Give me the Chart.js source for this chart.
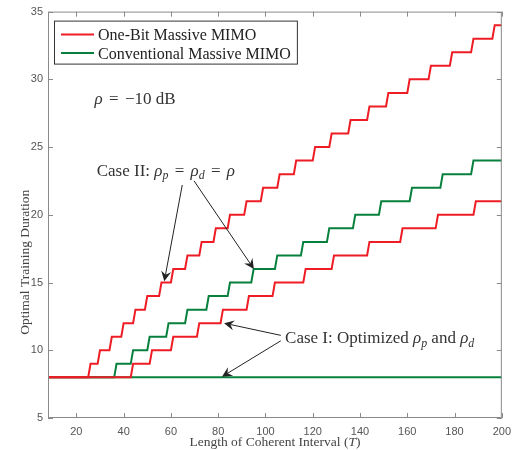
<!DOCTYPE html>
<html>
<head>
<meta charset="utf-8">
<script src="https://cdn.jsdelivr.net/npm/chart.js@4.4.1/dist/chart.umd.min.js"></script>
<style>
    html, body { margin: 0; padding: 0; background: #fff; }
    #wrap { width: 518px; height: 450px; position: relative; }
</style>
</head>
<body>
<div id="wrap"><canvas id="chart"></canvas></div>
<script>
// ─── Data ────────────────────────────────────────────────────────────────
const T_MIN = 8, T_MAX = 200;
const START_LEN = 8;                 // every curve starts at K = 8
const xTicks = [20, 40, 60, 80, 100, 120, 140, 160, 180, 200];
const yTicks = [5, 10, 15, 20, 25, 30, 35];

// T at which the optimal training duration steps up, and the new value
const oneBitCase2T   = [26, 30, 35, 40, 45, 50, 56, 61, 67, 73, 79, 85, 92, 99, 106, 113, 121, 128, 136, 144, 152, 161, 170, 179, 188, 197];
const oneBitCase2Len = [ 9, 10, 11, 12, 13, 14, 15, 16, 17, 18, 19, 20, 21, 22,  23,  24,  25,  26,  27,  28,  29,  30,  31,  32,  33,  34];

const oneBitCase1T   = [44, 52, 61, 72, 82, 93, 104, 117, 129, 144, 158, 173, 189];
const oneBitCase1Len = [ 9, 10, 11, 12, 13, 14,  15,  16,  17,  18,  19,  20,  21];

const convCase2T     = [37, 44, 51, 59, 67, 76, 85, 95, 105, 116, 127, 138, 149, 162, 175, 188];
const convCase2Len   = [ 9, 10, 11, 12, 13, 14, 15, 16,  17,  18,  19,  20,  21,  22,  23,  24];

const convCase1T     = [];
const convCase1Len   = [];

const RED   = '#ee1d25';
const GREEN = '#08803d';
const SERIF = '"Liberation Serif", "DejaVu Serif", serif';
const SANS  = '"Liberation Sans", Arial, sans-serif';

// integer-T staircase: value changes between T-1 and T
function stairs(stepT, stepLen) {
    const pts = [{ x: T_MIN, y: START_LEN }];
    let prev = START_LEN;
    stepT.forEach((t, i) => {
        pts.push({ x: t - 1, y: prev });
        pts.push({ x: t, y: stepLen[i] });
        prev = stepLen[i];
    });
    pts.push({ x: T_MAX, y: prev });
    return pts;
}

// ─── Text helpers ────────────────────────────────────────────────────────
// segs: [text, style]   style: '' upright, 'i' italic, 'is' italic subscript,
//                       'm' relation symbol with wide math spacing
const OP_GAP = 0.37;
function segFont(st, size) {
    const fs = st.includes('s') ? size * 0.7 : size;
    return (st.includes('i') ? 'italic ' : '') + fs + 'px ' + SERIF;
}
function richWidth(ctx, segs, size) {
    let w = 0;
    segs.forEach(([t, st]) => {
        ctx.font = segFont(st, size);
        w += ctx.measureText(t).width + (st === 'm' ? 2 * OP_GAP * size : 0);
    });
    return w;
}
function richText(ctx, segs, x, y, size) {
    let cx = x;
    ctx.textBaseline = 'alphabetic';
    ctx.textAlign = 'left';
    segs.forEach(([t, st]) => {
        ctx.font = segFont(st, size);
        if (st === 'm') cx += OP_GAP * size;
        ctx.fillText(t, cx, y + (st.includes('s') ? size * 0.22 : 0));
        cx += ctx.measureText(t).width;
        if (st === 'm') cx += OP_GAP * size;
    });
    return cx - x;
}
function arrow(ctx, x0, y0, x1, y1) {
    const a = Math.atan2(y1 - y0, x1 - x0), c = Math.cos(a), s = Math.sin(a);
    const L = 10, W = 5, N = 6.5;
    ctx.beginPath();
    ctx.moveTo(x0, y0);
    ctx.lineTo(x1 - N * c, y1 - N * s);
    ctx.stroke();
    ctx.beginPath();
    ctx.moveTo(x1, y1);
    ctx.lineTo(x1 - L * c + W * s, y1 - L * s - W * c);
    ctx.lineTo(x1 - N * c, y1 - N * s);
    ctx.lineTo(x1 - L * c - W * s, y1 - L * s + W * c);
    ctx.closePath();
    ctx.fill();
}

// ─── Frame, legend and annotations ───────────────────────────────────────
const decorations = {
    id: 'decorations',
    afterDraw(chart) {
        const { ctx, chartArea: ca, scales: { x, y } } = chart;
        ctx.save();

        // box + inward ticks
        ctx.strokeStyle = '#8a8a8a';
        ctx.lineWidth = 1;
        ctx.strokeRect(ca.left + 0.5, ca.top + 0.5, ca.right - ca.left - 1, ca.bottom - ca.top - 1);
        ctx.beginPath();
        xTicks.forEach(v => {
            const px = Math.round(x.getPixelForValue(v)) + 0.5;
            ctx.moveTo(px, ca.bottom); ctx.lineTo(px, ca.bottom - 5);
            ctx.moveTo(px, ca.top);    ctx.lineTo(px, ca.top + 5);
        });
        yTicks.forEach(v => {
            const py = Math.round(y.getPixelForValue(v)) + 0.5;
            ctx.moveTo(ca.left, py);  ctx.lineTo(ca.left + 5, py);
            ctx.moveTo(ca.right, py); ctx.lineTo(ca.right - 5, py);
        });
        ctx.stroke();

        // axis titles
        ctx.fillStyle = '#444';
        const xt = [['Length of Coherent Interval (', ''], ['T', 'i'], [')', '']];
        const xw = richWidth(ctx, xt, 13.5);
        richText(ctx, xt, (ca.left + ca.right) / 2 - xw / 2, ca.bottom + 27.5, 13.5);

        ctx.save();
        ctx.translate(ca.left - 23, y.getPixelForValue(16.5));
        ctx.rotate(-Math.PI / 2);
        ctx.font = '13.5px ' + SERIF;
        ctx.textAlign = 'center';
        ctx.textBaseline = 'middle';
        ctx.fillText('Optimal Training Duration', 0, 0);
        ctx.restore();

        // legend
        const items = chart.data.datasets.filter(d => d.legend);
        ctx.font = '16px ' + SERIF;
        const tw = Math.max(...items.map(d => ctx.measureText(d.label).width));
        const bx = ca.left + 6, by = ca.top + 9;
        ctx.fillStyle = '#fff';
        ctx.fillRect(bx, by, 44 + tw + 6, 43);
        ctx.strokeStyle = '#333';
        ctx.strokeRect(bx + 0.5, by + 0.5, 44 + tw + 6, 43);
        items.forEach((d, i) => {
            const ry = by + 14 + i * 18.5;
            ctx.strokeStyle = d.borderColor;
            ctx.lineWidth = 2;
            ctx.beginPath();
            ctx.moveTo(bx + 7, ry); ctx.lineTo(bx + 40, ry);
            ctx.stroke();
            ctx.fillStyle = '#222';
            ctx.textAlign = 'left';
            ctx.textBaseline = 'alphabetic';
            ctx.fillText(d.label, bx + 44, ry + 5.5);
        });

        // annotations
        ctx.fillStyle = '#333';
        richText(ctx, [['ρ', 'i'], ['=', 'm'], ['−10 dB', '']],
            x.getPixelForValue(27.7), y.getPixelForValue(28.2), 17);
        richText(ctx, [['Case II: ', ''], ['ρ', 'i'], ['p', 'is'], ['=', 'm'], ['ρ', 'i'], ['d', 'is'], ['=', 'm'], ['ρ', 'i']],
            x.getPixelForValue(28.6), y.getPixelForValue(22.9), 17);
        richText(ctx, [['Case I: Optimized ', ''], ['ρ', 'i'], ['p', 'is'], [' and ', ''], ['ρ', 'i'], ['d', 'is']],
            x.getPixelForValue(108.3), y.getPixelForValue(10.5), 17);

        ctx.strokeStyle = '#222';
        ctx.fillStyle = '#222';
        ctx.lineWidth = 1;
        const P = (t, v) => [x.getPixelForValue(t), y.getPixelForValue(v)];
        arrow(ctx, ...P(64.8, 22.2), ...P(57.2, 15.1));
        arrow(ctx, ...P(69.8, 22.5), ...P(95.1, 16.0));
        arrow(ctx, ...P(106.5, 11.1), ...P(82.5, 12.0));
        arrow(ctx, ...P(106.5, 10.7), ...P(81.6, 8.05));

        ctx.restore();
    }
};

// ─── Chart ───────────────────────────────────────────────────────────────
new Chart(document.getElementById('chart'), {
    type: 'line',
    data: {
        datasets: [
            { label: 'One-Bit Massive MIMO',      legend: true, data: stairs(oneBitCase2T, oneBitCase2Len), borderColor: RED },
            { label: 'One-Bit Massive MIMO',      data: stairs(oneBitCase1T, oneBitCase1Len), borderColor: RED },
            { label: 'Conventional Massive MIMO', legend: true, data: stairs(convCase2T, convCase2Len), borderColor: GREEN },
            { label: 'Conventional Massive MIMO', data: stairs(convCase1T, convCase1Len), borderColor: GREEN },
        ],
    },
    options: {
        responsive: true,
        maintainAspectRatio: false,
        animation: false,
        layout: { padding: { top: 7, right: 13, left: 0, bottom: 0 } },
        elements: {
            point: { radius: 0 },
            line: { tension: 0, borderWidth: 2, fill: false },
        },
        plugins: { legend: { display: false }, tooltip: { enabled: false } },
        scales: {
            x: {
                type: 'linear', min: T_MIN, max: T_MAX,
                grid: { display: false, drawTicks: false },
                border: { display: false },
                ticks: { font: { family: SANS, size: 11 }, color: '#555', padding: 7, maxRotation: 0 },
                afterBuildTicks: s => { s.ticks = xTicks.map(v => ({ value: v })); },
                afterFit: s => { s.height = 32; },
            },
            y: {
                type: 'linear', min: 5, max: 35,
                grid: { display: false, drawTicks: false },
                border: { display: false },
                ticks: { font: { family: SANS, size: 11 }, color: '#555', padding: 5 },
                afterBuildTicks: s => { s.ticks = yTicks.map(v => ({ value: v })); },
                afterFit: s => { s.width = 48; },
            },
        },
    },
    plugins: [decorations],
});
</script>
</body>
</html>
